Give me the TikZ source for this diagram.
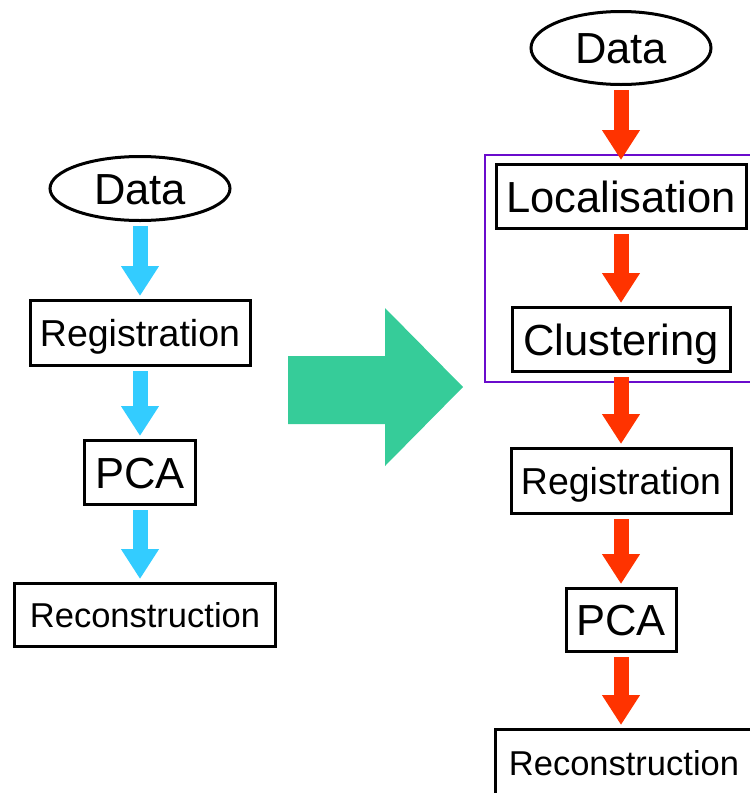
\documentclass[tikz,border=0pt]{standalone}
\usepackage{fontspec}
\setmainfont{Liberation Sans}
\usetikzlibrary{arrows.meta, positioning, shapes.geometric, fit}

\definecolor{flowblue}{HTML}{33CCFF}
\definecolor{flowred}{HTML}{FF3300}
\definecolor{flowgreen}{HTML}{36CC99}
\definecolor{grouppurple}{HTML}{6A0CCC}

\begin{document}
\begin{tikzpicture}[x=1pt, y=-1pt,
  box/.style   = {draw, line width=3pt, inner sep=0pt, text depth=0pt},
  data/.style  = {box, ellipse, minimum width=180pt},
  large/.style = {font=\fontsize{43.5}{52}\selectfont, text height=31.1pt},
  mid/.style   = {font=\fontsize{37.5}{45}\selectfont, text height=26.9pt},
  small/.style = {font=\fontsize{34.5}{41}\selectfont, text height=24.7pt},
  flow/.style  = {line width=15pt, shorten <=4pt, shorten >=3pt,
                  -{Triangle[width=36pt, length=30pt]}},
  group/.style = {draw=grouppurple, line width=2pt, inner xsep=10pt, inner ysep=8.5pt}]
  \useasboundingbox (0,0) rectangle (750,793);
  \clip (0,0) rectangle (750,793);

  % old pipeline
  \node[data, large, minimum height=64pt] (dl) at (140,188.5) {Data};
  \node[box, mid, minimum width=220pt, minimum height=65pt] (rl) [below=77pt of dl] {Registration};
  \node[box, large, minimum width=111pt, minimum height=64pt] (pl) [below=72pt of rl] {PCA};
  \node[box, small, minimum width=261pt, minimum height=63pt] (cl) [below=76pt of pl, xshift=5pt] {Reconstruction};

  % new pipeline
  \node[data, large, minimum height=73pt] (dr) at (621,48) {Data};
  \node[box, large, minimum width=250pt, minimum height=64pt] (lr) [below=77pt of dr] {Localisation};
  \node[box, large, minimum width=218pt, minimum height=64pt] (kr) [below=76pt of lr] {Clustering};
  \node[box, mid, minimum width=220pt, minimum height=65pt] (rr) [below=74pt of kr] {Registration};
  \node[box, large, minimum width=110pt, minimum height=63pt] (pr) [below=72pt of rr] {PCA};
  \node[box, small, minimum width=258pt, minimum height=67pt] (cr) [below=75pt of pr, xshift=3pt] {Reconstruction};
  \node[group, fit=(lr)(kr)] (gr) {};

  \foreach \a/\b in {dl/rl, rl/pl, pl/cl}
    \draw[flow, flowblue] (\a.south) -- (\a.south |- \b.north);
  \foreach \a/\b in {dr/lr, lr/kr, kr/rr, rr/pr, pr/cr}
    \draw[flow, flowred] (\a.south) -- (\a.south |- \b.north);

  % big arrow between the two
  \fill[flowgreen] (288,356) -- (385,356) -- (385,308) -- (463,387)
    -- (385,466) -- (385,424) -- (288,424) -- cycle;
\end{tikzpicture}
\end{document}
